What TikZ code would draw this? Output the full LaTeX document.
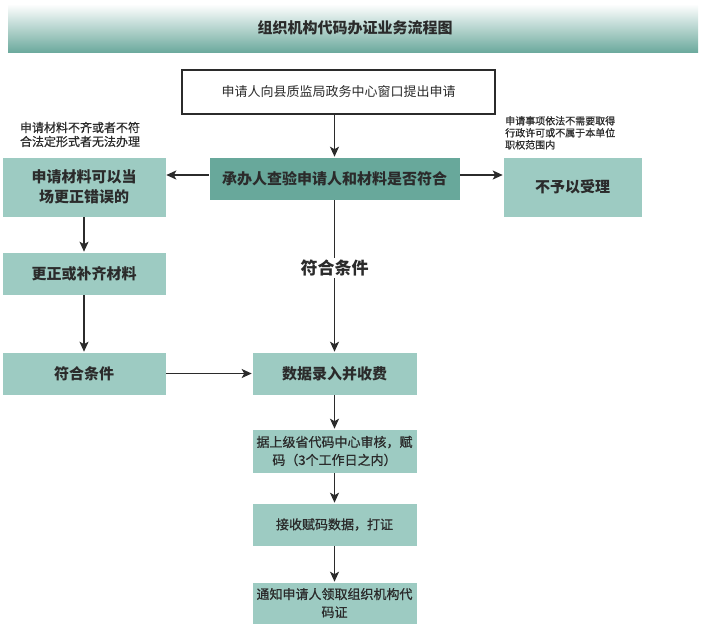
\documentclass[tikz,border=0pt]{standalone}
\usepackage{fontspec}
\setmainfont{Noto Sans CJK SC}
\newfontfamily\medfont[FakeBold=0.8]{Noto Sans CJK SC}
\usetikzlibrary{arrows.meta}
\definecolor{tealdark}{HTML}{68A89B}
\definecolor{teallight}{HTML}{9DCBC2}
\definecolor{tealbar}{HTML}{6DAA9E}
\definecolor{ink}{HTML}{2B2B2B}
\tikzset{
  box/.style={draw=white, line width=0.6pt, fill=teallight, inner sep=0pt, align=center, text=ink},
  bigtxt/.style={font=\fontsize{15}{20}\selectfont\bfseries},
  smalltxt/.style={font=\medfont\fontsize{13}{18}\selectfont},
  arr/.style={draw=ink, line width=1.8pt, -{Stealth[length=10pt,width=9pt,inset=2.5pt]}},
}
\begin{document}
\begin{tikzpicture}[x=1pt,y=-1pt]
\useasboundingbox (0,0) rectangle (703,625);
% title bar
\shade[top color=white, bottom color=tealbar] (8,4) rectangle (698,52);
\node (title) at (355,28) [text=ink, font=\fontsize{15}{18}\selectfont\bfseries] {组织机构代码办证业务流程图};
% boxes
\node (top) at (338.5,92) [draw=ink, line width=1.6pt, fill=white, minimum width=313pt, minimum height=44pt, inner sep=0pt, text=ink, font=\fontsize{13}{16}\selectfont] {申请人向县质监局政务中心窗口提出申请};
\node (check) at (334.5,178.5) [box, fill=tealdark, minimum width=251pt, minimum height=43pt, bigtxt] {承办人查验申请人和材料是否符合};
\node (left1) at (84,187) [box, minimum width=164pt, minimum height=60pt, bigtxt] {申请材料可以当\\场更正错误的};
\node (reject) at (572.5,187) [box, minimum width=139pt, minimum height=60pt, bigtxt] {不予以受理};
\node (fix) at (84,273.5) [box, minimum width=164pt, minimum height=43pt, bigtxt] {更正或补齐材料};
\node (okleft) at (84,373.5) [box, minimum width=164pt, minimum height=43pt, bigtxt] {符合条件};
\node (data) at (334.5,373.5) [box, minimum width=165pt, minimum height=43pt, bigtxt] {数据录入并收费};
\node (review) at (334.5,451) [box, minimum width=165pt, minimum height=44pt, smalltxt] {据上级省代码中心审核，赋\\码（3个工作日之内）};
\node (print) at (334.5,524.5) [box, minimum width=165pt, minimum height=43pt, smalltxt] {接收赋码数据，打证};
\node (notify) at (334.5,603) [box, minimum width=165pt, minimum height=42pt, smalltxt] {通知申请人领取组织机构代\\码证};
% annotations
\node (noteL) at (80,134.5) [align=center, text=ink, inner sep=0pt, font=\medfont\fontsize{12}{14}\selectfont] {申请材料不齐或者不符\\合法定形式者无法办理};
\node (noteR) at (505,116) [anchor=north west, align=left, text=ink, inner sep=0pt, font=\medfont\fontsize{10}{12}\selectfont] {申请事项依法不需要取得\\行政许可或不属于本单位\\职权范围内};
% connectors
\draw[arr] (check.north |- top.south) -- (check.north);
\draw[arr] (check.west |- 0,175) -- (left1.east |- 0,175);
\draw[arr] (check.east |- 0,175) -- (reject.west |- 0,175);
\draw[arr] (check.south) -- node[pos=0.447, fill=white, text=ink, inner sep=2pt, font=\fontsize{17}{20}\selectfont\bfseries] (cond) {符合条件} (data.north);
\draw[arr] (left1.south) -- (fix.north);
\draw[arr] (fix.south) -- (okleft.north);
\draw[arr] (okleft.east) -- (data.west);
\draw[arr] (data.south) -- (review.north);
\draw[arr] (review.south) -- (print.north);
\draw[arr] (print.south) -- (notify.north);
\end{tikzpicture}
\end{document}
